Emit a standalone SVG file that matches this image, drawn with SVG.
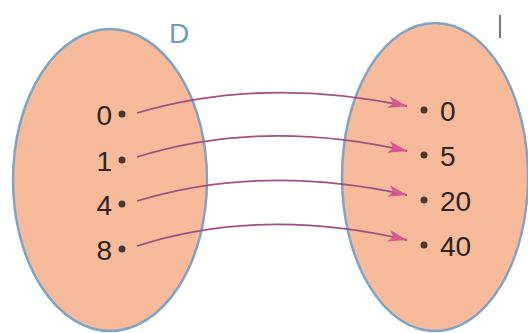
<svg xmlns="http://www.w3.org/2000/svg" width="528" height="333" viewBox="0 0 528 333">
<defs>
<style>
.set{fill:#f7ba9b;stroke:#7fa4c6;stroke-width:2.5}
.num{font-family:"Liberation Sans",Arial,sans-serif;font-size:28px;fill:#2b2523}
.dot{fill:#4a3732}
.lbl{font-family:"Liberation Sans",Arial,sans-serif;font-size:28px}
.arr{fill:none;stroke:#a24f84;stroke-width:1.8}
</style>
<marker id="ah" markerWidth="20" markerHeight="13" refX="19" refY="6.5" orient="auto" markerUnits="userSpaceOnUse">
<path d="M0,0.5 L19,6.5 L0,12.5 L5,6.5 Z" fill="#d9578f"/>
</marker>
</defs>
<g id="setD">
<ellipse class="set" cx="110" cy="180" rx="97" ry="151"/>
<text class="lbl" x="169" y="43" fill="#6c9cc4">D</text>
<circle class="dot" cx="122" cy="114" r="3.5"/>
<text class="num" x="112" y="125" text-anchor="end">0</text>
<circle class="dot" cx="122" cy="160" r="3.5"/>
<text class="num" x="112" y="171" text-anchor="end">1</text>
<circle class="dot" cx="122" cy="204" r="3.5"/>
<text class="num" x="112" y="215" text-anchor="end">4</text>
<circle class="dot" cx="122" cy="249" r="3.5"/>
<text class="num" x="112" y="260" text-anchor="end">8</text>
</g>
<g id="setI">
<ellipse class="set" cx="435" cy="177" rx="93" ry="154"/>
<rect x="499" y="15" width="2" height="23" fill="#7a7a7a"/>
<circle class="dot" cx="424" cy="110" r="3.5"/>
<text class="num" x="440" y="121">0</text>
<circle class="dot" cx="424" cy="155" r="3.5"/>
<text class="num" x="440" y="166">5</text>
<circle class="dot" cx="424" cy="200" r="3.5"/>
<text class="num" x="440" y="211">20</text>
<circle class="dot" cx="424" cy="245" r="3.5"/>
<text class="num" x="440" y="256">40</text>
</g>
<g id="connectors">
<path class="arr" d="M137,113 Q262,76 407,106" marker-end="url(#ah)"/>
<path class="arr" d="M137,157 Q262,118 407,151" marker-end="url(#ah)"/>
<path class="arr" d="M137,201 Q262,163 407,195" marker-end="url(#ah)"/>
<path class="arr" d="M137,246 Q262,206 407,240" marker-end="url(#ah)"/>
</g>
</svg>
